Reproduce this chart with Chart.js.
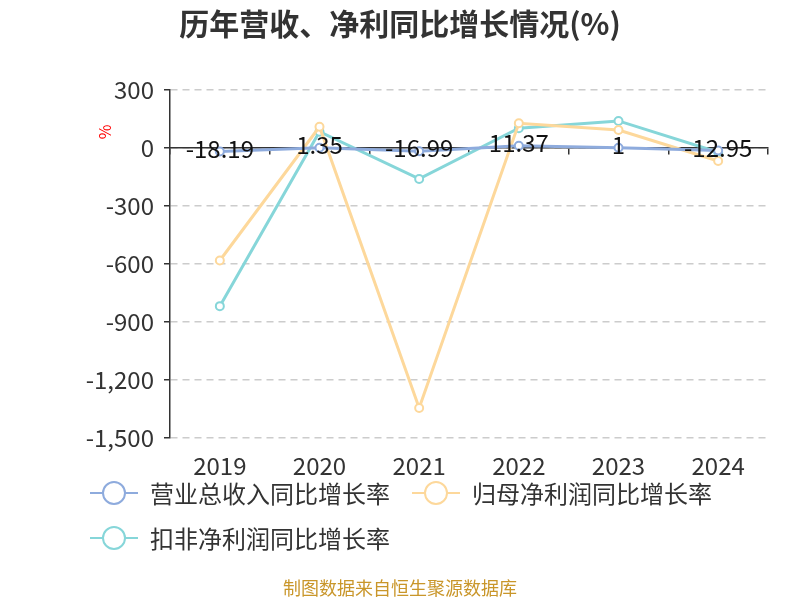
<!DOCTYPE html>
<html><head><meta charset="utf-8">
<script src="https://cdn.jsdelivr.net/npm/chart.js@4/dist/chart.umd.min.js"></script>
<style>
body{margin:0;background:#fff;}
#wrap{position:relative;width:800px;height:600px;font-family:"Noto Sans CJK SC","Noto Sans",sans-serif;}
canvas{position:absolute;left:0;top:0;}
.lg{position:absolute;display:flex;align-items:center;font-size:24px;color:#333;white-space:nowrap;line-height:1;}
.lg svg{margin-right:12px;}
#footer{position:absolute;left:0;width:800px;top:578px;text-align:center;font-size:18px;color:#c9962a;line-height:1;}
</style></head><body>
<div id="wrap"><canvas id="c" width="800" height="600"></canvas>
<div id="legend"></div>
<div id="footer">制图数据来自恒生聚源数据库</div></div>
<script>
const years = ['2019','2020','2021','2022','2023','2024'];
const revenueGrowth = [-18.19, 1.35, -16.99, 11.37, 1, -12.95];
const parentProfitGrowth = [-582, 110, -1345, 128, 93, -67];
const deductedProfitGrowth = [-818, 84, -160, 102, 140, -22];
const yTicks = [300, 0, -300, -600, -900, -1200, -1500];
const seriesNames = ['营业总收入同比增长率', '归母净利润同比增长率', '扣非净利润同比增长率'];
const seriesColors = ['#8eabdd', '#fdd89b', '#86d6d9'];
const titleText = '历年营收、净利同比增长情况(%)';
const unitText = '%';

const FONT = '"Noto Sans CJK SC","Noto Sans",sans-serif';

// legend (HTML)
const legendPos = [[90, 493], [412, 493], [90, 538]];
const legendEl = document.getElementById('legend');
seriesNames.forEach((n, i) => {
  const d = document.createElement('div');
  d.className = 'lg';
  d.style.left = legendPos[i][0] + 'px';
  d.style.top = (legendPos[i][1] - 13) + 'px';
  d.innerHTML = `<svg width="48" height="26"><line x1="0" y1="13" x2="48" y2="13" stroke="${seriesColors[i]}" stroke-width="2"/><circle cx="24" cy="13" r="11" fill="#fff" stroke="${seriesColors[i]}" stroke-width="2"/></svg><span>${n}</span>`;
  legendEl.appendChild(d);
});

const mk = (label, data, color) => ({
  label, data,
  borderColor: color, backgroundColor: '#fff',
  borderWidth: 3, tension: 0,
  pointRadius: 4, pointBorderWidth: 2, pointBackgroundColor: '#fff', pointBorderColor: color,
  pointHoverRadius: 4
});

const extras = {
  id: 'extras',
  afterDatasetsDraw(chart) {
    const ctx = chart.ctx;
    const meta = chart.getDatasetMeta(0);
    ctx.save();
    ctx.font = '24px ' + FONT;
    ctx.fillStyle = '#111';
    ctx.textAlign = 'center';
    ctx.textBaseline = 'middle';
    meta.data.forEach((p, i) => {
      ctx.fillText(String(revenueGrowth[i]), p.x, p.y - 3);
    });
    ctx.restore();
  },
  afterDraw(chart) {
    const ctx = chart.ctx;
    const ys = chart.scales.y;
    ctx.save();
    ctx.font = 'bold 30px ' + FONT;
    ctx.fillStyle = '#333';
    ctx.textAlign = 'center';
    ctx.textBaseline = 'middle';
    ctx.fillText(titleText, chart.width / 2, 24);
    ctx.translate(chart.chartArea.left - 65, ys.getPixelForValue(0) - 16);
    ctx.rotate(-Math.PI / 2);
    ctx.font = '16px ' + FONT;
    ctx.fillStyle = '#ff0000';
    ctx.fillText(unitText, 0, 0);
    ctx.restore();
  }
};

new Chart(document.getElementById('c'), {
  type: 'line',
  data: {
    labels: years,
    datasets: [
      mk(seriesNames[0], revenueGrowth, seriesColors[0]),
      mk(seriesNames[1], parentProfitGrowth, seriesColors[1]),
      mk(seriesNames[2], deductedProfitGrowth, seriesColors[2])
    ]
  },
  options: {
    responsive: false,
    animation: false,
    layout: { padding: { top: 90, right: 32, left: 0, bottom: 0 } },
    plugins: { legend: { display: false }, tooltip: { enabled: false }, title: { display: false } },
    scales: {
      x: {
        type: 'category',
        position: 'bottom',
        offset: true,
        grid: { display: false },
        border: { display: false },
        ticks: { font: { size: 24, family: FONT }, color: '#333', padding: 5, maxRotation: 0 },
        afterFit: s => { s.height = 162; }
      },
      x0: {
        type: 'category',
        labels: years,
        position: { y: 0 },
        offset: true,
        grid: { offset: true, drawOnChartArea: false, drawTicks: true, tickLength: 6, color: '#333', lineWidth: 1.5 },
        border: { display: true, color: '#333', width: 1.5 },
        ticks: { display: false },
        afterFit: s => { s.height = 0; }
      },
      y: {
        min: -1500, max: 300,
        afterBuildTicks: s => { s.ticks = yTicks.map(v => ({ value: v })); },
        grid: { color: '#cccccc', lineWidth: 1.5, tickLength: 6, tickColor: '#333', tickBorderDash: [] },
        border: { display: true, color: '#333', width: 1.5, dash: [7, 5] },
        ticks: { font: { size: 24, family: FONT }, color: '#333', padding: 10,
          callback: v => Number(v).toLocaleString('en-US') },
        afterFit: s => { s.width = 170; }
      }
    }
  },
  plugins: [extras]
});
</script>
</body></html>
